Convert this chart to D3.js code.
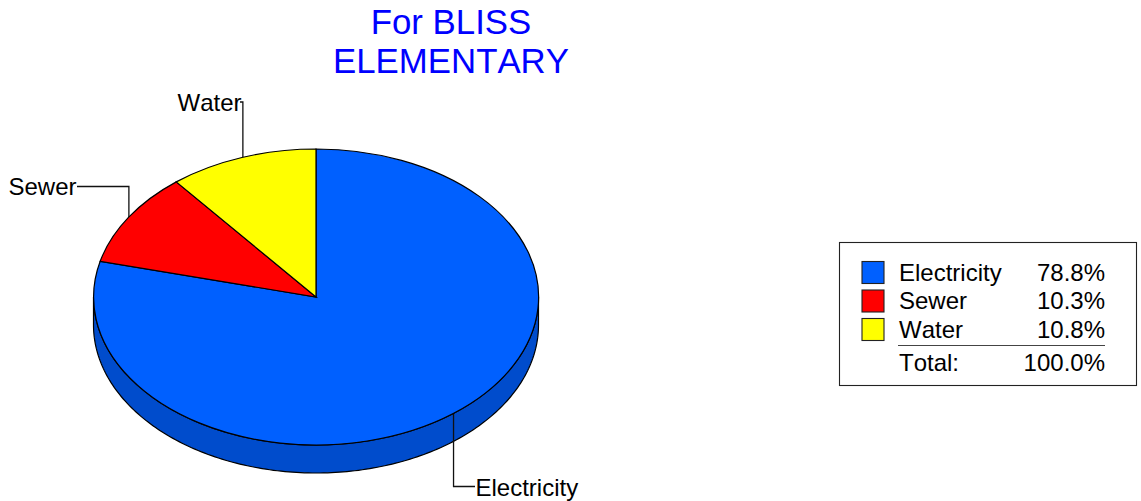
<!DOCTYPE html>
<html><head><meta charset="utf-8">
<script src="https://cdn.jsdelivr.net/npm/d3@7"></script>
<style>html,body{margin:0;background:#fff}svg{display:block}text{font-family:"Liberation Sans",Arial,sans-serif;fill:#000;font-kerning:none}</style>
</head><body><svg id="c" width="1141" height="501"></svg>
<script>
const titleLines = ["For BLISS", "ELEMENTARY"];
const categories = ["Electricity", "Sewer", "Water"];
const values = [78.8, 10.3, 10.8];
const percentLabels = ["78.8%", "10.3%", "10.8%"];
const totalLabel = "100.0%";
const colors = ["#0060ff", "#ff0000", "#ffff00"];
const sideColor = "#004ccc";

const svg = d3.select("#c");
const cx = 316, cy = 297, rx = 222.5, ry = 148, depth = 28;
const fs = 24;
const X = d3.scaleLinear().domain([-1, 1]).range([cx - rx, cx + rx]);
const Y = d3.scaleLinear().domain([-1, 1]).range([cy - ry, cy + ry]);
const px = a => X(Math.sin(a)), py = a => Y(-Math.cos(a));

const arcs = d3.pie().sort(null).value(d => d)(values);

// Title
svg.selectAll(".t").data(titleLines).join("text").attr("class", "t")
  .attr("x", 451).attr("y", (d, i) => 34 + i * 39)
  .attr("text-anchor", "middle").attr("font-size", 34.8).style("fill", "#0000ff").text(d => d);

// Leaders (under the pie top, over the side)
const ang = arcs.map(a => (a.startAngle + a.endAngle) / 2);
const leaderDefs = [
  {i: 0, dx: 0.5, pts: (a, dx) => [[px(a) + dx, py(a)], [px(a) + dx, 486.5], [475, 486.5]], lx: 475.5, ly: 496, anchor: "start"},
  {i: 1, dx: 0.5, pts: (a, dx) => [[px(a) + dx, py(a)], [px(a) + dx, 186.5], [77, 186.5]], lx: 76.5, ly: 195, anchor: "end"},
  {i: 2, dx: 1, pts: (a, dx) => [[px(a) + dx, py(a)], [px(a) + dx, 102], [240, 102]], lx: 241.5, ly: 111, anchor: "end"}
];

// Side wall of the visible front half
const theta = d3.range(0, 181).map(d => Math.PI / 2 + d / 180 * Math.PI);
const front = theta.map(a => [px(a), py(a)]);
const side = front.concat(front.slice().reverse().map(p => [p[0], p[1] + depth]));
svg.append("path").attr("d", d3.line()(side) + "Z")
  .attr("fill", sideColor).attr("stroke", "#000").attr("stroke-width", 1.2);

const line = d3.line();
svg.selectAll(".lead").data(leaderDefs).join("path").attr("class", "lead")
  .attr("d", d => line(d.pts(ang[d.i], d.dx))).attr("fill", "none")
  .attr("stroke", "#111").attr("stroke-width", 1.3);

// Top face slices
const arcGen = d3.arc().innerRadius(0).outerRadius(1);
svg.append("g").attr("transform", `translate(${cx},${cy}) scale(${rx},${ry})`)
  .selectAll("path").data(arcs).join("path")
  .attr("d", arcGen).attr("fill", (d, i) => colors[i])
  .attr("stroke", "#000").attr("stroke-width", 1.2).attr("vector-effect", "non-scaling-stroke");

svg.selectAll(".lab").data(leaderDefs).join("text").attr("class", "lab")
  .attr("x", d => d.lx).attr("y", d => d.ly).attr("text-anchor", d => d.anchor)
  .attr("font-size", fs).text(d => categories[d.i]);

// Legend
const lg = svg.append("g");
lg.append("rect").attr("x", 839.5).attr("y", 242.5).attr("width", 297).attr("height", 143)
  .attr("fill", "#fff").attr("stroke", "#222").attr("stroke-width", 1.1);
const rowY = d3.scalePoint().domain(categories).range([280.5, 337.5]);
const rows = lg.selectAll(".row").data(categories).join("g").attr("class", "row");
rows.append("rect").attr("x", 862).attr("y", d => rowY(d) - 19).attr("width", 22).attr("height", 22)
  .attr("fill", (d, i) => colors[i]).attr("stroke", "#222").attr("stroke-width", 1.1);
rows.append("text").attr("x", 899).attr("y", d => rowY(d)).attr("font-size", fs).text(d => d);
rows.append("text").attr("x", 1105).attr("y", d => rowY(d)).attr("text-anchor", "end")
  .attr("font-size", fs).text((d, i) => percentLabels[i]);
lg.append("line").attr("x1", 898).attr("x2", 1105).attr("y1", 345.5).attr("y2", 345.5)
  .attr("stroke", "#444").attr("stroke-width", 1);
lg.append("text").attr("x", 899).attr("y", 370.5).attr("font-size", fs).text("Total:");
lg.append("text").attr("x", 1105).attr("y", 370.5).attr("text-anchor", "end").attr("font-size", fs).text(totalLabel);
</script></body></html>
